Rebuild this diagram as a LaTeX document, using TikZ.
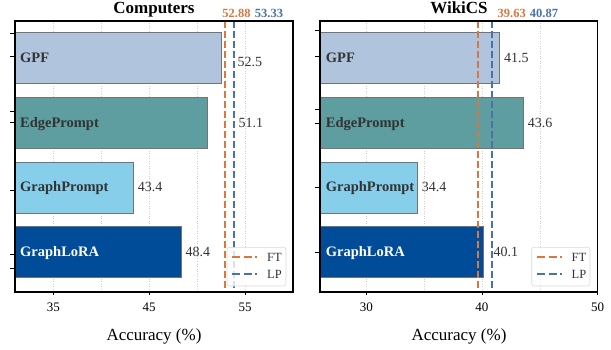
\documentclass[tikz,border=0pt]{standalone}
\usepackage{fontspec}
\setmainfont{Liberation Serif}
\definecolor{cGPF}{HTML}{B0C4DE}
\definecolor{cEdge}{HTML}{5F9EA0}
\definecolor{cGP}{HTML}{87CEEB}
\definecolor{cLoRA}{HTML}{004C99}
\definecolor{cFT}{HTML}{D9773E}
\definecolor{cLP}{HTML}{4A72A6}
\definecolor{txt}{HTML}{333333}
\begin{document}
\begin{tikzpicture}[x=1pt,y=-1pt,
  barbox/.style={draw=black!55, line width=0.8pt},
  lbl/.style={font=\fontsize{14.5}{16}\selectfont\bfseries, text=txt, anchor=base west, inner sep=0pt},
  val/.style={font=\fontsize{14}{16}\selectfont, text=txt, anchor=base west, inner sep=0pt},
  ttl/.style={font=\fontsize{17}{19}\selectfont\bfseries, anchor=base, inner sep=0pt},
  reftxt/.style={font=\fontsize{12.5}{14}\selectfont\bfseries, anchor=base, inner sep=0pt},
  ticklbl/.style={font=\fontsize{13}{15}\selectfont, anchor=base, inner sep=0pt},
  xlab/.style={font=\fontsize{17}{19}\selectfont, anchor=base, inner sep=0pt},
  refline/.style={line width=2.2pt, dash pattern=on 7pt off 3pt},
  legline/.style={line width=2pt, dash pattern=on 8pt off 3.5pt},
  gridline/.style={gray!40, line width=0.5pt, dotted},
  legbox/.style={draw=gray!30, fill=white, fill opacity=0.8, rounded corners=2.5pt, line width=0.6pt},
  legtxt/.style={font=\fontsize{12.5}{14}\selectfont, anchor=base west, inner sep=0pt, text=txt},
  frame/.style={line width=1.2pt},
  ytick/.style={line width=0.8pt},
]
\useasboundingbox (0,0) rectangle (611,350);

% ================= LEFT PANEL: Computers (xlim 31..60, px 15..293) =================
\foreach \v in {35,40,45,50,55}
  \draw[gridline] ({15+(\v-31)*9.586},21) -- ({15+(\v-31)*9.586},292);

\draw[barbox, fill=cGPF]  (15,32.3)  rectangle ({15+(52.5-31)*9.586},83.3);
\draw[barbox, fill=cEdge] (15,97.3)  rectangle ({15+(51.1-31)*9.586},148.3);
\draw[barbox, fill=cGP]   (15,162)   rectangle ({15+(43.4-31)*9.586},213);
\draw[barbox, fill=cLoRA] (15,226.7) rectangle ({15+(48.4-31)*9.586},277.5);

\draw[refline, cFT] (224.7,21) -- (224.7,292);
\draw[refline, cLP] (234.3,21) -- (234.3,292);

\node[lbl] (lgpf) at (20,62.3) {GPF};
\node[lbl] (ledge) at (20,127.3) {EdgePrompt};
\node[lbl] (lgp) at (20,192) {GraphPrompt};
\node[lbl, text=white] (llora) at (20,256.5) {GraphLoRA};

\node[val] (lv1) at (237.3,66.5) {52.5};
\node[val] (lv2) at (238.3,127.3) {51.1};
\node[val] (lv3) at (137.7,192) {43.4};
\node[val] (lv4) at (185.3,256.5) {48.4};

% legend
\draw[legbox] (227,247.3) rectangle (286,286);
\draw[legline, cFT] (232,257.3) -- (257,257.3);
\draw[legline, cLP] (232,274.3) -- (257,274.3);
\node[legtxt] (lft) at (267,261.6) {FT};
\node[legtxt] (llp) at (267,278.6) {LP};

% frame and ticks
\draw[frame] (15,21) rectangle (293,292);
\foreach \y in {33.3,56.7,111.7,122.7,190,254.3,268.3}
  \draw[ytick] (10,\y) -- (15,\y);
\foreach \v in {35,45,55}
  \draw[ytick] ({15+(\v-31)*9.586},292) -- ({15+(\v-31)*9.586},295);

\node[ticklbl] (lt35) at ({15+(35-31)*9.586},311.5) {35};
\node[ticklbl] (lt45) at ({15+(45-31)*9.586},311.5) {45};
\node[ticklbl] (lt55) at ({15+(55-31)*9.586},311.5) {55};
\node[xlab] (lxl) at (154,340) {Accuracy (\%)};

\node[ttl] (ltitle) at (154,14) {Computers};
\node[reftxt, text=cFT] (lrf1) at (236.5,17.3) {52.88};
\node[reftxt, text=cLP] (lrf2) at (269,17.3) {53.33};

% ================= RIGHT PANEL: WikiCS (xlim 26..50, px 320..597.7) =================
\foreach \v in {30,35,40,45}
  \draw[gridline] ({320+(\v-26)*11.57},21) -- ({320+(\v-26)*11.57},292);

\draw[barbox, fill=cGPF]  (320,32.3)  rectangle ({320+(41.5-26)*11.57},83.3);
\draw[barbox, fill=cEdge] (320,97.3)  rectangle ({320+(43.6-26)*11.57},148.3);
\draw[barbox, fill=cGP]   (320,162)   rectangle ({320+(34.4-26)*11.57},213);
\draw[barbox, fill=cLoRA] (320,226.7) rectangle ({320+(40.1-26)*11.57},277.5);

\draw[refline, cFT] (477.7,21) -- (477.7,292);
\draw[refline, cLP] (492,21) -- (492,292);

\node[lbl] (rgpf) at (325.7,62.3) {GPF};
\node[lbl] (redge) at (325.7,127.3) {EdgePrompt};
\node[lbl] (rgp) at (325.7,192) {GraphPrompt};
\node[lbl, text=white] (rlora) at (325.7,256.5) {GraphLoRA};

\node[val] (rv1) at (504,62.3) {41.5};
\node[val] (rv2) at (527.7,127.3) {43.6};
\node[val] (rv3) at (421.7,192) {34.4};
\node[val] (rv4) at (493.5,256.5) {40.1};

% legend
\draw[legbox] (531.7,247.3) rectangle (590,286);
\draw[legline, cFT] (537.3,257.3) -- (561.7,257.3);
\draw[legline, cLP] (537.3,274.3) -- (561.7,274.3);
\node[legtxt] (rft) at (571.5,261.6) {FT};
\node[legtxt] (rlp) at (571.5,278.6) {LP};

% frame and ticks
\draw[frame] (320,21) rectangle (597.7,292);
\foreach \y in {30.5,56.7,109.3,123.3,187.7,252.7}
  \draw[ytick] (315,\y) -- (320,\y);
\foreach \v in {30,40,50}
  \draw[ytick] ({320+(\v-26)*11.57},292) -- ({320+(\v-26)*11.57},295);

\node[ticklbl] (rt30) at ({320+(30-26)*11.57},311.5) {30};
\node[ticklbl] (rt40) at ({320+(40-26)*11.57},311.5) {40};
\node[ticklbl] (rt50) at ({320+(50-26)*11.57},311.5) {50};
\node[xlab] (rxl) at (459,340) {Accuracy (\%)};

\node[ttl] (rtitle) at (459,14) {WikiCS};
\node[reftxt, text=cFT] (rrf1) at (511.7,17.3) {39.63};
\node[reftxt, text=cLP] (rrf2) at (544,17.3) {40.87};
\end{tikzpicture}
\end{document}
